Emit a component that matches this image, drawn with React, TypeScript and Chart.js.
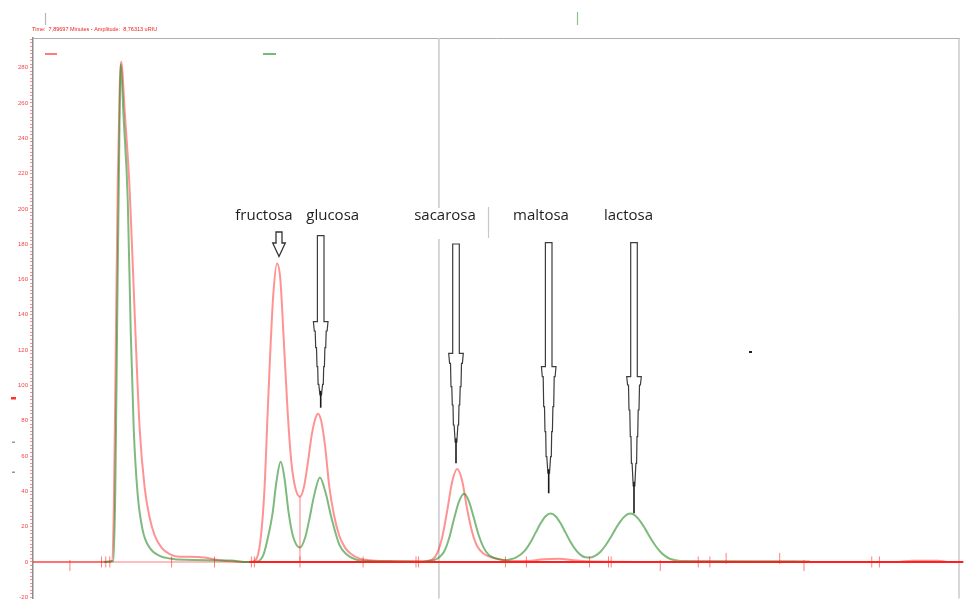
import React, { useEffect, useRef } from 'react';
import { Chart, registerables } from 'chart.js';

Chart.register(...registerables);

// ---- data (time in minutes, amplitude in uRIU) ----
const redTime = [0, 1.3, 1.533, 1.572, 1.61, 1.649, 1.688, 1.715, 1.785, 1.882, 1.979, 2.076, 2.173, 2.27, 2.367, 2.503, 2.658, 2.852, 3.046, 3.337, 3.628, 3.919, 4.21, 4.327, 4.424, 4.501, 4.566, 4.618, 4.676, 4.748, 4.812, 4.88, 4.954, 5.025, 5.103, 5.194, 5.268, 5.346, 5.423, 5.491, 5.543, 5.607, 5.685, 5.763, 5.86, 5.957, 6.073, 6.19, 6.345, 6.539, 6.927, 7.509, 7.664, 7.767, 7.864, 7.961, 8.058, 8.155, 8.252, 8.349, 8.446, 8.543, 8.64, 8.776, 8.931, 9.158, 9.546, 9.934, 10.225, 10.516, 10.904, 12.942, 16.822, 17.113, 17.599, 17.793, 18.025];
const redValue = [0, 0, 0.5, 30, 120, 215, 270, 283.5, 255, 210, 140, 75, 42, 25, 15, 8, 4.5, 3, 3, 2.5, 1, 0.3, 0, 1, 12, 40, 85, 120, 152, 169, 160, 125, 85, 57, 42, 37, 42, 56, 72, 81, 84, 80, 65, 43, 26, 15, 8, 4.5, 2, 1, 0.5, 0.3, 0.6, 1.3, 5, 14, 29, 45.4, 52.6, 46, 30, 17, 9, 4.5, 2.5, 1, 0.5, 1.5, 1.8, 1, 0.3, 0, 0, 0.7, 0.7, 0, 0];

const greenTime = [1.378, 1.562, 1.601, 1.639, 1.68, 1.702, 1.766, 1.843, 1.902, 1.96, 2.037, 2.134, 2.27, 2.464, 2.658, 2.949, 3.861, 4.113, 4.366, 4.482, 4.579, 4.663, 4.734, 4.818, 4.89, 4.973, 5.064, 5.194, 5.297, 5.375, 5.472, 5.582, 5.685, 5.815, 5.957, 6.093, 6.267, 6.539, 7.509, 7.703, 7.8, 7.897, 7.994, 8.091, 8.188, 8.285, 8.388, 8.479, 8.576, 8.673, 8.77, 8.867, 9.003, 9.197, 9.294, 9.391, 9.488, 9.585, 9.682, 9.779, 9.876, 9.973, 10.07, 10.167, 10.264, 10.361, 10.458, 10.555, 10.652, 10.749, 10.846, 10.943, 11.04, 11.137, 11.234, 11.331, 11.428, 11.525, 11.622, 11.719, 11.816, 11.913, 12.01, 12.107, 12.204, 12.302, 12.399, 12.593, 14.106, 15.115];
const greenValue = [0, 0.5, 40, 140, 240, 282, 250, 205, 130, 75, 38, 18, 8, 3.5, 2, 1.2, 0.8, 0, 0.3, 4, 15, 28, 45, 56.7, 48, 28, 14, 8.2, 14, 24, 38, 47.8, 40, 24, 10, 4.5, 1.5, 0.5, 0.3, 0.6, 1.0, 2.5, 5.6, 13, 24, 34, 38.6, 34.5, 25, 15, 8, 4, 2, 1, 1.5, 2.5, 4.2, 7, 11.3, 16.6, 21.9, 25.9, 27.4, 25.9, 21.9, 16.6, 11.3, 7, 4, 2.6, 2.5, 3.6, 5.8, 9.3, 13.7, 18.6, 23, 26.2, 27.4, 26.2, 23, 18.6, 13.7, 9.3, 5.8, 3.3, 1.7, 0.6, 0.4, 0.3];

// integration markers on the baseline
const markTime = [0.718, 1.333, 1.416, 1.494, 2.697, 3.531, 4.249, 4.307, 5.194, 6.422, 7.451, 7.499, 9.191, 9.599, 10.827, 11.196, 11.248, 12.204, 12.942, 13.169, 13.485, 14.527, 14.999, 16.318, 16.467];
const markLevel = [-2, 0, 0, 0, 0, 0, 0, 0, 0, 0, 0, 0, 0, 0, 0, 0, 0, -2, 0, 0, 2, 2, -2, 0, 0];

const baselineSplit = 4.21;
const dropTime = 5.194;
const dropValue = 37;
const cursorTime = 7.89697;
const headerText = 'Time:  7,89697 Minutes - Amplitude:  8,76313 uRIU';
const peakNames = ['fructosa', 'glucosa', 'sacarosa', 'maltosa', 'lactosa'];

const xMin = 0;
const xMax = 18.025;
const yMin = -20.7;
const yMax = 296.8;
const yTickStep = 2;
const yLabelStep = 20;

const pts = (xs: number[], ys: number[]) => xs.map((x, i) => ({ x, y: ys[i] }));

function drawNeedle(ctx: CanvasRenderingContext2D, cx: number, v: number[]) {
  const [top, sh, we, s1, s2, s3, tip] = v;
  const mid = s3 + (tip - s3) * 0.45;
  const L: [number, number][] = [
    [3.3, top], [3.3, sh], [7.3, sh], [6.4, we], [5.5, we], [5.0, s1], [4.2, s1],
    [3.7, s2], [3.0, s2], [2.6, s3], [1.9, s3], [0.8, mid],
  ];
  ctx.beginPath();
  L.forEach(([hw, y], i) => (i ? ctx.lineTo(cx - hw, y) : ctx.moveTo(cx - hw, y)));
  for (let i = L.length - 1; i >= 0; i--) ctx.lineTo(cx + L[i][0], L[i][1]);
  ctx.closePath();
  ctx.fillStyle = '#ffffff';
  ctx.fill();
  ctx.strokeStyle = '#3c3c3c';
  ctx.lineWidth = 1.2;
  ctx.stroke();
  ctx.beginPath();
  ctx.moveTo(cx, mid - 4);
  ctx.lineTo(cx, tip);
  ctx.strokeStyle = '#1a1a1a';
  ctx.lineWidth = 1.6;
  ctx.stroke();
}

const decor = {
  id: 'decor',
  beforeDatasetsDraw(chart: any) {
    const { ctx, chartArea: a, scales } = chart;
    ctx.save();
    ctx.strokeStyle = '#b0b0b0';
    ctx.lineWidth = 1;
    ctx.beginPath();
    ctx.moveTo(a.left, a.top + 0.5);
    ctx.lineTo(a.right, a.top + 0.5);
    ctx.moveTo(a.right - 0.5, a.top);
    ctx.lineTo(a.right - 0.5, a.bottom);
    ctx.stroke();
    const cx = scales.x.getPixelForValue(cursorTime);
    ctx.strokeStyle = '#cdcdcd';
    ctx.lineWidth = 1.6;
    ctx.beginPath();
    ctx.moveTo(cx, a.top);
    ctx.lineTo(cx, a.bottom);
    ctx.stroke();
    ctx.restore();
  },
  afterDraw(chart: any) {
    const { ctx } = chart;
    ctx.save();
    // header readout
    ctx.fillStyle = '#ee2020';
    ctx.font = '5.5px "Liberation Sans"';
    ctx.textBaseline = 'alphabetic';
    ctx.textAlign = 'left';
    ctx.fillText(headerText, 32, 31);
    // small grey markers at the top
    ctx.lineWidth = 1.2;
    ctx.strokeStyle = '#b5b5b5';
    ctx.beginPath(); ctx.moveTo(45.5, 13); ctx.lineTo(45.5, 25); ctx.stroke();
    ctx.strokeStyle = '#8fbf8f';
    ctx.beginPath(); ctx.moveTo(577.5, 12); ctx.lineTo(577.5, 25); ctx.stroke();
    // legend dashes
    ctx.lineWidth = 2;
    ctx.strokeStyle = '#ff7b7b';
    ctx.beginPath(); ctx.moveTo(45, 54); ctx.lineTo(57, 54); ctx.stroke();
    ctx.strokeStyle = '#78b878';
    ctx.beginPath(); ctx.moveTo(263, 54); ctx.lineTo(276, 54); ctx.stroke();
    // left margin marks
    ctx.fillStyle = '#ff3030';
    ctx.fillRect(11, 397, 5, 2.5);
    ctx.fillStyle = '#80a880';
    ctx.fillRect(12, 441.5, 3, 1.5);
    ctx.fillRect(12, 471.5, 3, 1.5);
    // labels
    const centers = [264, 332.7, 445, 541, 628.5];
    ctx.font = '15px "Open Sans"';
    ctx.textAlign = 'center';
    ctx.textBaseline = 'middle';
    peakNames.forEach((name, i) => {
      const w = ctx.measureText(name).width;
      ctx.fillStyle = '#ffffff';
      ctx.fillRect(centers[i] - w / 2 - 3, 208, w + 6, 31);
      ctx.fillStyle = '#1e1e1e';
      ctx.fillText(name, centers[i], 216);
    });
    // faint grey stub
    ctx.strokeStyle = '#c8c8c8';
    ctx.lineWidth = 1.2;
    ctx.beginPath(); ctx.moveTo(488.5, 207); ctx.lineTo(488.5, 238); ctx.stroke();
    // fructosa arrow
    const ax = 279;
    ctx.beginPath();
    ctx.moveTo(ax - 3, 232); ctx.lineTo(ax + 3, 232); ctx.lineTo(ax + 3, 243);
    ctx.lineTo(ax + 6.3, 243); ctx.lineTo(ax, 256.5); ctx.lineTo(ax - 6.3, 243);
    ctx.lineTo(ax - 3, 243); ctx.closePath();
    ctx.fillStyle = '#ffffff'; ctx.fill();
    ctx.strokeStyle = '#333333'; ctx.lineWidth = 1.3; ctx.stroke();
    // needles
    drawNeedle(ctx, 320.7, [235.7, 321.7, 331, 347.7, 366.7, 384.3, 407.7]);
    drawNeedle(ctx, 456, [244, 353.3, 363.3, 386.7, 405, 425, 463.3]);
    drawNeedle(ctx, 548.7, [242.7, 366.7, 376.7, 406.7, 431.7, 456.7, 493.3]);
    drawNeedle(ctx, 634, [242.7, 376.7, 385, 410, 436.7, 463.3, 513.3]);
    // stray dot
    ctx.fillStyle = '#222';
    ctx.fillRect(749, 351, 3, 2);
    ctx.restore();
  },
};

export default function App() {
  const ref = useRef<HTMLCanvasElement>(null);
  useEffect(() => {
    const chart = new Chart(ref.current as HTMLCanvasElement, {
      type: 'line',
      data: {
        datasets: [
          {
            label: 'baseline',
            data: [{ x: baselineSplit, y: 0 }, { x: 18.1, y: 0 }],
            borderColor: '#ff1f1f',
            borderWidth: 2,
            pointRadius: 0,
            clip: false as any,
          },
          {
            label: 'marks',
            data: pts(markTime, markLevel),
            showLine: false,
            pointStyle: 'line',
            pointRotation: 90,
            pointRadius: 5.5,
            pointBorderColor: 'rgba(255,0,0,0.5)',
            pointBorderWidth: 1,
            borderColor: 'rgba(255,0,0,0.5)',
          },
          {
            label: 'drop',
            data: [{ x: dropTime, y: 0 }, { x: dropTime, y: dropValue }],
            borderColor: 'rgba(255,0,0,0.5)',
            borderWidth: 1,
            pointRadius: 0,
          },
          {
            label: 'B',
            data: pts(greenTime, greenValue),
            borderColor: 'rgba(40,140,40,0.6)',
            borderWidth: 2,
            pointRadius: 0,
            cubicInterpolationMode: 'monotone',
          },
          {
            label: 'A',
            data: pts(redTime, redValue),
            borderColor: 'rgba(255,40,40,0.5)',
            borderWidth: 2,
            pointRadius: 0,
            cubicInterpolationMode: 'monotone',
          },
          {
            label: 'baseline start',
            data: [{ x: xMin, y: 0 }, { x: baselineSplit, y: 0 }],
            borderColor: 'rgba(255,0,0,0.35)',
            borderWidth: 1.5,
            pointRadius: 0,
          },
        ],
      },
      options: {
        animation: false,
        responsive: false,
        maintainAspectRatio: false,
        parsing: false as any,
        normalized: true,
        layout: { padding: { top: 38, right: 4, left: 0, bottom: 0 } },
        plugins: { legend: { display: false }, tooltip: { enabled: false } },
        scales: {
          x: { type: 'linear', min: xMin, max: xMax, display: false },
          y: {
            type: 'linear',
            min: yMin,
            max: yMax,
            afterFit: (s: any) => {
              s.width = 33;
              s.paddingTop = 0;
              s.paddingBottom = 0;
            },
            ticks: {
              stepSize: yTickStep,
              autoSkip: false,
              includeBounds: false,
              color: 'rgba(235,0,0,0.75)',
              font: { size: 6, family: '"Liberation Sans"' },
              padding: 2,
              callback: (v: any) => {
                const n = Math.round(Number(v));
                return Math.abs(Number(v) - n) < 1e-6 && n % yLabelStep === 0 ? String(n) : '';
              },
            },
            grid: {
              drawOnChartArea: false,
              drawTicks: true,
              tickLength: 3,
              tickColor: 'rgba(255,0,0,0.45)',
              tickWidth: 1,
            },
            border: { display: true, color: '#8c8c8c', width: 1.5 },
          },
        },
      },
      plugins: [decor],
    } as any);
    return () => chart.destroy();
  }, []);
  return (
    <div style={{ position: 'fixed', left: 0, top: 0, width: 966, height: 605, background: '#ffffff', overflow: 'hidden' }}>
      <canvas ref={ref} width={966} height={605} style={{ display: 'block' }} />
    </div>
  );
}
